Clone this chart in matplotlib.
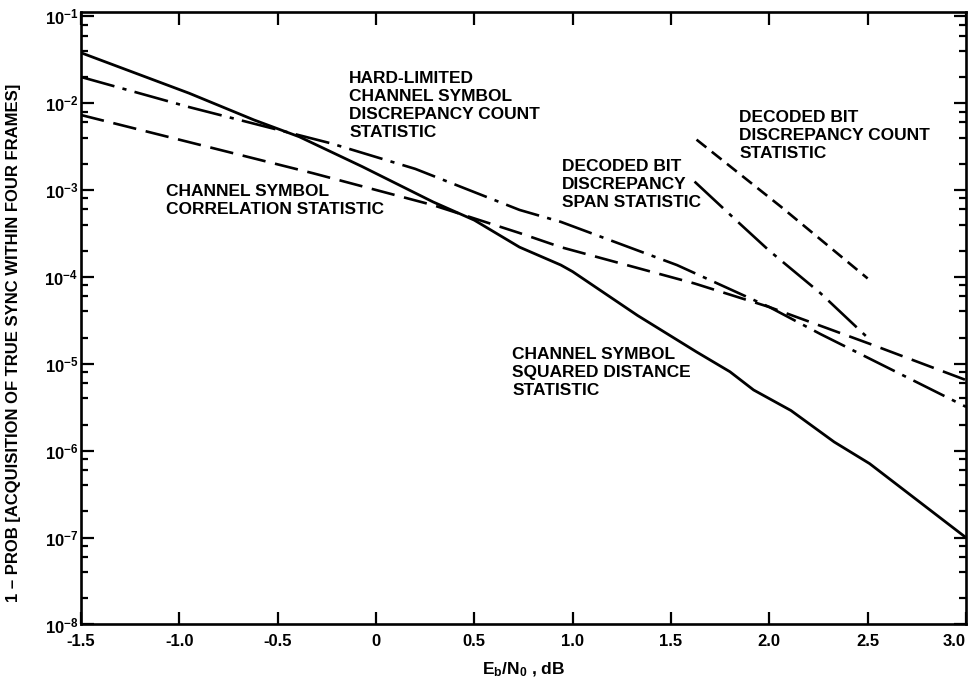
import matplotlib.pyplot as plt
from matplotlib.ticker import LogLocator, NullFormatter

plt.rcParams["font.family"] = ["Liberation Sans", "DejaVu Sans"]
plt.rcParams["font.weight"] = "bold"
plt.rcParams["axes.labelweight"] = "bold"
plt.rcParams["mathtext.fontset"] = "custom"
plt.rcParams["mathtext.rm"] = "Liberation Sans:bold"
plt.rcParams["mathtext.it"] = "Liberation Sans:bold"
plt.rcParams["mathtext.bf"] = "Liberation Sans:bold"
plt.rcParams["axes.unicode_minus"] = False
plt.rcParams["lines.scale_dashes"] = False

# channel symbol squared distance statistic (solid)
sq_x = [-1.5, -0.95, -0.62, -0.39, -0.07, 0.29, 0.5, 0.73, 0.94, 1.0,
        1.33, 1.63, 1.8, 1.92, 2.11, 2.33, 2.51, 3.0]
sq_y = [3.8e-2, 1.3e-2, 6.4e-3, 4.1e-3, 1.86e-3, 7.3e-4, 4.5e-4, 2.2e-4, 1.37e-4, 1.15e-4,
        3.6e-5, 1.37e-5, 8.1e-6, 5.0e-6, 2.9e-6, 1.26e-6, 7.1e-7, 1.0e-7]

# hard-limited channel symbol discrepancy count statistic (dash-dot)
hl_x = [-1.5, -0.95, -0.23, 0.2, 0.73, 0.94, 1.53, 2.0, 2.26, 3.0]
hl_y = [2.0e-2, 9.0e-3, 3.45e-3, 1.75e-3, 5.9e-4, 4.3e-4, 1.37e-4, 4.5e-5, 2.2e-5, 3.2e-6]

# channel symbol correlation statistic (long dash)
co_x = [-1.5, -0.32, 0.29, 0.73, 0.94, 1.62, 2.0, 2.51, 3.0]
co_y = [7.3e-3, 1.56e-3, 6.7e-4, 3.2e-4, 2.2e-4, 8.4e-5, 4.5e-5, 1.7e-5, 6.5e-6]

# decoded bit discrepancy span statistic
sp_x = [1.62, 1.84, 2.0, 2.26, 2.5]
sp_y = [1.25e-3, 4.3e-4, 2.0e-4, 6.5e-5, 2.0e-5]

# decoded bit discrepancy count statistic (short dash)
ct_x = [1.63, 2.06, 2.5]
ct_y = [3.8e-3, 6.4e-4, 9.6e-5]

xticks = [-1.5, -1.0, -0.5, 0, 0.5, 1.0, 1.5, 2.0, 2.5, 3.0]
xtick_labels = ["-1.5", "-1.0", "-0.5", "0", "0.5", "1.0", "1.5", "2.0", "2.5", "3.0"]
ydecades = [-8, -7, -6, -5, -4, -3, -2, -1]

fig = plt.figure(figsize=(9.72, 6.87), dpi=100)
ax = fig.add_axes([0.0833, 0.0910, 0.9105, 0.8916])

ax.plot(sq_x, sq_y, color="black", linewidth=2.0, solid_joinstyle="round")
ax.plot(hl_x, hl_y, color="black", linewidth=1.9, linestyle=(0, (25, 6, 3, 6)))
ax.plot(co_x, co_y, color="black", linewidth=1.9, linestyle=(0, (17, 7)))
ax.plot(sp_x, sp_y, color="black", linewidth=1.9, linestyle=(0, (28, 6, 3, 6)))
ax.plot(ct_x, ct_y, color="black", linewidth=1.9, linestyle=(0, (9, 5)))

ax.set_yscale("log")
ax.set_xlim(-1.5, 3.0)
ax.set_ylim(1e-8, 0.112)

ax.set_xticks(xticks)
ax.set_xticklabels(xtick_labels)
ax.get_xticklabels()[-1].set_horizontalalignment("right")
ax.set_yticks([10.0 ** d for d in ydecades])
ax.set_yticklabels([r"$\mathregular{10^{%d}}$" % d for d in ydecades])
ax.yaxis.set_minor_locator(LogLocator(base=10, subs=[2, 4, 6, 8]))
ax.yaxis.set_minor_formatter(NullFormatter())

ax.tick_params(which="both", direction="in", top=True, right=True, width=1.6)
ax.tick_params(which="major", length=9, labelsize=12)
ax.tick_params(which="minor", length=5)
ax.tick_params(axis="x", which="major", pad=7)
ax.tick_params(axis="y", which="major", pad=2)
for s in ax.spines.values():
    s.set_linewidth(1.9)

ax.set_xlabel(r"$\mathregular{E_b/N_0}$ , dB", fontsize=12.5, labelpad=8)
ax.set_ylabel("1 \u2013 PROB [ACQUISITION OF TRUE SYNC WITHIN FOUR FRAMES]", fontsize=12)
ax.yaxis.set_label_coords(-0.068, 0.46)

txt = dict(fontsize=12.5, ha="left", va="center", linespacing=1.25)
ax.text(-0.136, 9.5e-3, "HARD-LIMITED\nCHANNEL SYMBOL\nDISCREPANCY COUNT\nSTATISTIC", **txt)
ax.text(-1.067, 7.5e-4, "CHANNEL SYMBOL\nCORRELATION STATISTIC", **txt)
ax.text(0.946, 1.17e-3, "DECODED BIT\nDISCREPANCY\nSPAN STATISTIC", **txt)
ax.text(1.848, 4.2e-3, "DECODED BIT\nDISCREPANCY COUNT\nSTATISTIC", **txt)
ax.text(0.693, 8.0e-6, "CHANNEL SYMBOL\nSQUARED DISTANCE\nSTATISTIC", **txt)

fig.savefig("out.png", dpi=100)
